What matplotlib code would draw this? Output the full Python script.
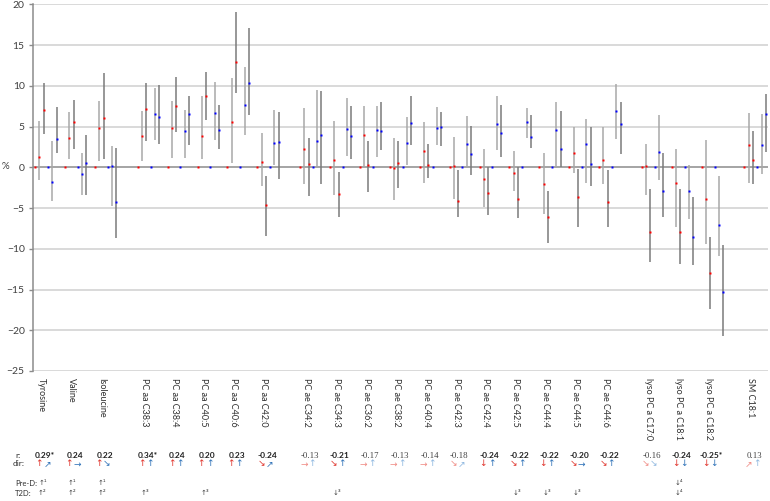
import numpy as np
import matplotlib.pyplot as plt
from matplotlib.transforms import blended_transform_factory

## data ##
metabolites = ['Tyrosine', 'Valine', 'Isoleucine',
               'PC aa C38:3', 'PC aa C38:4', 'PC aa C40:5', 'PC aa C40:6', 'PC aa C42:0',
               'PC ae C34:2', 'PC ae C34:3', 'PC ae C36:2', 'PC ae C38:2', 'PC ae C40:4',
               'PC ae C42:3', 'PC ae C42:4', 'PC ae C42:5', 'PC ae C44:4', 'PC ae C44:5',
               'PC ae C44:6', 'lyso PC a C17:0', 'lyso PC a C18:1', 'lyso PC a C18:2',
               'SM C18:1']

# first category of each metabolite on the (Excel-like) category axis
group_start = [0, 7, 14, 24, 31, 38, 45, 52, 62, 69, 76, 83, 90, 97, 104, 111,
               118, 125, 132, 142, 149, 156, 166]

# red series (reference point is 0)
red1    = [1.2, 3.6, 4.8, 3.8, 4.8, 3.8, 5.6, 0.6, 2.2, 0.9, 4.0, -0.1, 2.0, 0.15, -1.4, -0.7, -2.1, 1.7, 0.9, 0.15, -1.9, -3.9, 2.7]
red1_lo = [-1.6, 1.0, 0.8, 0.8, 1.1, 1.0, 0.5, -2.3, -2.1, -3.4, 0.2, -4.0, -1.9, -3.9, -4.9, -2.9, -5.7, -0.65, -2.1, -3.45, -7.3, -9.4, -1.9]
red1_hi = [5.7, 6.8, 8.1, 6.9, 8.1, 8.7, 11.0, 4.2, 7.3, 5.7, 7.5, 3.6, 5.5, 3.7, 2.2, 2.05, 1.8, 5.0, 4.9, 2.9, 2.3, 3.3, 6.7]
red2    = [7.0, 5.6, 6.0, 7.2, 7.5, 8.8, 12.9, -4.6, 0.4, -3.3, 0.25, 0.5, 0.3, -4.1, -3.1, -3.9, -6.15, -3.6, -4.2, -7.9, -8.0, -13.0, 0.9]
red2_lo = [4.1, 2.3, 1.0, 3.2, 4.3, 5.8, 9.1, -8.4, -3.5, -6.1, -3.0, -2.5, -1.3, -6.1, -5.9, -6.2, -9.3, -7.3, -7.3, -11.6, -11.85, -17.4, -2.1]
red2_hi = [10.3, 8.3, 11.6, 10.4, 11.1, 11.7, 19.1, -1.1, 3.6, -0.6, 3.2, 3.2, 2.8, -0.3, 0.0, 0.0, -2.9, -0.2, -0.3, -2.7, -2.7, -8.6, 4.5]

# blue series (reference point is 0)
blue1    = [-1.8, -0.8, 0.1, 6.5, 4.4, 6.7, 7.6, 3.0, 3.2, 4.7, 4.6, 3.0, 4.85, 2.8, 5.25, 5.6, 4.6, 2.9, 6.9, 1.85, -2.9, -7.1, 2.7]
blue1_lo = [-4.1, -3.4, -4.8, 3.4, 1.1, 3.3, 4.0, 0.3, 0.2, 1.4, 1.3, 0.3, 2.7, 0.2, 2.1, 3.6, 0.0, -1.9, 3.5, -1.6, -6.3, -10.9, -0.8]
blue1_hi = [3.2, 1.8, 2.6, 9.7, 7.0, 10.5, 12.3, 7.0, 9.5, 8.5, 7.5, 6.2, 7.4, 6.35, 8.8, 7.3, 8.0, 5.9, 10.2, 6.4, 0.3, -1.1, 6.55]
blue2    = [3.5, 0.5, -4.2, 6.2, 6.5, 4.6, 10.4, 3.1, 3.9, 3.8, 4.4, 5.45, 5.0, 1.6, 4.2, 3.75, 2.2, 0.45, 5.3, -2.95, -8.6, -15.25, 6.5]
blue2_lo = [1.7, -3.4, -8.7, 2.8, 2.7, 2.3, 6.4, -1.4, -2.0, 1.0, 2.1, 2.75, 2.6, -1.0, 1.2, 2.4, 0.0, -2.3, 1.6, -6.1, -12.0, -20.7, 1.9]
blue2_hi = [7.4, 4.0, 2.4, 10.1, 8.7, 7.7, 17.1, 6.8, 9.4, 7.5, 8.0, 8.8, 6.8, 5.1, 7.6, 6.4, 6.9, 4.9, 8.0, 1.7, -3.7, -9.5, 9.0]

# table under the chart
r_text = ['0.29*', '0.24', '0.22', '0.34*', '0.24', '0.20', '0.23', '-0.24', '-0.13', '-0.21',
          '-0.17', '-0.13', '-0.14', '-0.18', '-0.24', '-0.22', '-0.22', '-0.20', '-0.22',
          '-0.16', '-0.24', '-0.25*', '0.13']
r_bold = [1, 1, 1, 1, 1, 1, 1, 1, 0, 1, 0, 0, 0, 0, 1, 1, 1, 1, 1, 0, 1, 1, 0]
dir_red = ['↑', '↑', '↑', '↑', '↑', '↑', '↑', '↘', '→', '↘', '→', '→', '→', '↘', '↓', '↘',
           '↓', '↘', '↘', '↘', '↓', '↓', '↗']
dir_blue = ['↗', '→', '↘', '↑', '↑', '↑', '↑', '↗', '↑', '↑', '↑', '↑', '↑', '↗', '↑', '↑',
            '↑', '→', '↑', '↘', '↓', '↓', '↑']
pre_d = ['↑¹', '↑¹', '↑¹', '', '', '', '', '', '', '', '', '', '', '', '', '', '', '', '',
         '', '↓⁴', '', '']
t2d = ['↑²', '↑²', '↑²', '↑³', '', '↑³', '', '', '', '↓³', '', '', '', '', '', '↓³', '↓³',
       '↓³', '', '', '↓⁴', '', '']

###################

plt.rcParams['font.family'] = ['Lato', 'DejaVu Sans']

W, H = 770, 501
fig = plt.figure(figsize=(W / 100, H / 100), dpi=100)
ax = fig.add_axes([33 / W, 1 - 371 / H, 735 / W, 366.7 / H])

start = np.array(group_start, dtype=float)

# error bars first, then the dots
series = [(1, red1, red1_lo, red1_hi, '#a8a8a8', 'red'),
          (2, red2, red2_lo, red2_hi, '#7a7a7a', 'red'),
          (4, blue1, blue1_lo, blue1_hi, '#a8a8a8', 'blue'),
          (5, blue2, blue2_lo, blue2_hi, '#7a7a7a', 'blue')]
for off, val, lo, hi, ecol, col in series:
    x = start + off
    ax.vlines(x, lo, hi, color=ecol, lw=1.1, zorder=2)
    ax.plot(x, val, 's', color=col, ms=2.0, mec='none', zorder=3)
ax.plot(start, np.zeros(len(start)), 's', color='red', ms=2.0, mec='none', zorder=3)
ax.plot(start + 3, np.zeros(len(start)), 's', color='blue', ms=2.0, mec='none', zorder=3)

ax.set_xlim(-0.5, 171.5)
ax.set_ylim(-25, 20)
ax.set_yticks(np.arange(-25, 21, 5))
for yv in np.arange(-25, 21, 5):
    if yv != 0:
        ax.axhline(yv, color='#d0d0d0', lw=1.1, zorder=1)
ax.axhline(0, color='#8c8c8c', lw=1.1, zorder=1)

for s in ['top', 'right', 'bottom']:
    ax.spines[s].set_visible(False)
ax.spines['left'].set_color('#8c8c8c')
ax.spines['left'].set_linewidth(1.1)
ax.tick_params(axis='y', length=3, width=1, color='#8c8c8c', labelsize=7.5,
               labelcolor='#404040', pad=3)

ax.set_xticks(start + 1.5)
ax.set_xticklabels(metabolites, rotation=270, fontsize=6.5, color='#303030')
ax.tick_params(axis='x', length=0, pad=5)

fig.text(5 / W, 1 - 167 / H, '%', fontsize=7, color='#404040', ha='center', va='center')

# table rows
tr = blended_transform_factory(ax.transData, fig.transFigure)
def fy(px):
    return 1 - px / H

fig.text(21 / W, fy(456), 'r:', fontsize=6, ha='right', va='center', color='#303030')
fig.text(25 / W, fy(464), 'dir:', fontsize=6, ha='right', va='center', color='#303030')
fig.text(15 / W, fy(483), 'Pre-D:', fontsize=5.5, ha='left', va='center', color='#303030')
fig.text(15 / W, fy(493), 'T2D:', fontsize=5.5, ha='left', va='center', color='#303030')

for i, s0 in enumerate(start):
    if r_bold[i]:
        ax.text(s0 + 2.3, fy(456), r_text[i], transform=tr, fontsize=6, fontweight='bold',
                ha='center', va='center', color='#202020')
        cr, cb = '#e0342c', '#2f72b8'
    else:
        ax.text(s0 + 2.3, fy(456), r_text[i], transform=tr, fontsize=6.3,
                family='Liberation Serif', ha='center', va='center', color='#404040')
        cr, cb = '#f08c86', '#8fb8e0'
    ax.text(s0 + 0.9, fy(464), dir_red[i], transform=tr, fontsize=6.5, family='DejaVu Sans',
            ha='center', va='center', color=cr)
    ax.text(s0 + 2.8, fy(464), dir_blue[i], transform=tr, fontsize=6.5, family='DejaVu Sans',
            ha='center', va='center', color=cb)
    if pre_d[i]:
        ax.text(s0 + 1.7, fy(483), pre_d[i], transform=tr, fontsize=5, family='DejaVu Sans',
                ha='center', va='center', color='#404040')
    if t2d[i]:
        ax.text(s0 + 1.7, fy(493), t2d[i], transform=tr, fontsize=5, family='DejaVu Sans',
                ha='center', va='center', color='#404040')

fig.savefig('out.png', dpi=100)
